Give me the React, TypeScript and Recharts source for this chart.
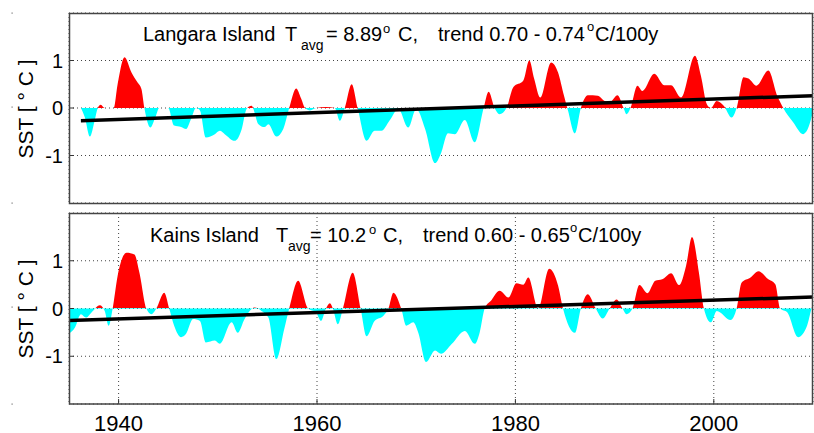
import { ComposedChart, Area, Line, XAxis, YAxis, CartesianGrid } from "recharts";

const FONT = '"Liberation Sans", Arial, Helvetica, sans-serif';

const yearTicks = [1940, 1960, 1980, 2000];
const sstTicks = [-1, 0, 1];

// Langara Island, smoothed SST anomaly
const langaraYears = [
  1936.2, 1936.6, 1937.1, 1937.6, 1937.9, 1938.2, 1938.6, 1939.5, 1939.9, 1940.6,
  1941.3, 1941.9, 1942.3, 1942.6, 1943.2, 1943.7, 1944.1, 1945.0, 1945.6, 1946.3,
  1946.8, 1947.3, 1947.8, 1948.2, 1948.8, 1949.7, 1950.2, 1950.7, 1951.7, 1952.4,
  1952.9, 1953.4, 1954.1, 1954.7, 1955.1, 1955.9, 1956.6, 1957.2, 1957.9, 1958.4,
  1958.8, 1959.3, 1959.9, 1960.9, 1961.8, 1962.3, 1962.8, 1963.5, 1964.1, 1965.0,
  1965.8, 1966.5, 1967.3, 1968.2, 1969.2, 1970.0, 1970.9, 1971.9, 1972.5, 1973.2,
  1973.9, 1974.9, 1975.9, 1976.8, 1977.3, 1977.9, 1978.4, 1979.1, 1979.8, 1980.8,
  1981.4, 1981.9, 1982.5, 1983.6, 1984.3, 1984.9, 1985.3, 1986.0, 1986.6, 1987.3,
  1988.3, 1989.0, 1989.5, 1990.3, 1990.9, 1991.2, 1991.6, 1992.3, 1992.8, 1994.0,
  1995.0, 1995.7, 1996.7, 1998.1, 1998.7, 1999.3, 1999.7, 2000.3, 2001.0, 2001.8,
  2002.3, 2003.0, 2003.5, 2004.3, 2005.5, 2006.4, 2007.0, 2008.0, 2009.0, 2009.9,
  2010.0,
];
const langaraSst = [
  0, -0.2, -0.6, -0.25, 0, 0.07, 0, 0, 0.5, 1.07,
  0.75, 0.54, 0.4, 0, -0.41, -0.2, 0, 0, -0.37, -0.4,
  -0.44, -0.23, 0, -0.05, -0.62, -0.55, -0.48, -0.55, -0.69, -0.45,
  -0.02, 0.05, -0.34, -0.4, -0.34, -0.6, -0.44, 0, 0.41, 0.2,
  0, -0.05, 0, 0.02, 0, -0.27, 0, 0.5, 0, -0.69,
  -0.48, -0.48, -0.27, -0.02, -0.41, -0.02, -0.44, -1.16, -0.95, -0.53,
  -0.55, -0.25, -0.72, 0, 0.34, 0, -0.13, 0, 0.44, 0.58,
  1.0, 0.61, 0.22, 0.96, 0.75, 0.26, -0.05, -0.53, 0, 0.27,
  0.26, 0.15, 0.12, 0.27, 0, -0.13, 0, 0.47, 0.36, 0.72,
  0.48, 0.48, 0.22, 1.1, 0.68, 0.08, 0, 0.15, 0.05, -0.2,
  0, 0.65, 0.62, 0.47, 0.79, 0.26, 0, -0.3, -0.55, -0.16,
  0.03,
];
const langaraTrendYears = [1936.2, 2010];
const langaraTrendSst = [-0.27, 0.26];

// Kains Island, smoothed SST anomaly
const kainsYears = [
  1935.0, 1935.6, 1936.2, 1936.7, 1937.4, 1938.1, 1938.6, 1939.0, 1939.4, 1939.9,
  1940.8, 1941.6, 1942.1, 1942.8, 1943.3, 1943.8, 1944.6, 1945.1, 1945.6, 1946.3,
  1946.8, 1947.5, 1948.2, 1948.8, 1949.7, 1950.2, 1951.4, 1952.0, 1952.7, 1953.4,
  1953.7, 1954.4, 1955.1, 1955.9, 1956.7, 1957.2, 1958.1, 1959.1, 1959.9, 1960.4,
  1960.9, 1961.3, 1961.6, 1962.1, 1962.6, 1963.6, 1964.4, 1965.0, 1965.8, 1966.7,
  1967.2, 1967.7, 1968.5, 1969.0, 1969.7, 1970.2, 1971.0, 1971.9, 1972.5, 1973.6,
  1974.9, 1975.9, 1976.4, 1976.9, 1977.6, 1978.4, 1979.3, 1980.1, 1980.8, 1981.3,
  1982.3, 1983.4, 1984.3, 1984.8, 1986.0, 1986.6, 1987.3, 1988.1, 1988.8, 1989.5,
  1990.2, 1990.8, 1991.2, 1991.8, 1992.5, 1993.3, 1994.1, 1994.8, 1995.7, 1996.5,
  1997.2, 1997.8, 1998.5, 1999.0, 1999.7, 2000.3, 2001.7, 2002.3, 2002.8, 2003.7,
  2004.5, 2005.5, 2006.2, 2006.7, 2007.4, 2008.5, 2009.4, 2009.85, 2010.0,
];
const kainsSst = [
  -0.53, -0.4, -0.12, -0.19, -0.05, 0.07, -0.05, -0.36, 0, 0.68,
  1.17, 1.13, 0.75, 0, -0.12, 0, 0.33, 0, -0.36, -0.6,
  -0.53, -0.22, -0.26, -0.71, -0.67, -0.74, -0.29, -0.51, -0.22, -0.01,
  0.02, -0.05, -0.19, -1.06, -0.43, 0, 0.58, 0, -0.08, -0.26,
  0, 0.11, 0, -0.33, -0.01, 0.75, 0, -0.58, -0.26, -0.15,
  0, 0.33, -0.01, -0.36, -0.29, -0.5, -1.12, -0.88, -0.95, -0.74,
  -0.47, -0.74, -0.5, 0, 0.18, 0.37, 0.23, 0.53, 0.5, 0.65,
  0, 0.83, 0.48, 0, -0.51, 0, 0.3, 0, -0.21, 0,
  0.19, 0, -0.12, 0, 0.49, 0.32, 0.58, 0.61, 0.74, 0.49,
  0.89, 1.5, 0.75, 0, -0.29, -0.05, -0.24, 0, 0.54, 0.65,
  0.78, 0.61, 0.51, 0, -0.08, -0.6, -0.36, 0, 0.1,
];
const kainsTrendYears = [1935, 2010];
const kainsTrendSst = [-0.25, 0.24];

interface PanelProps {
  id: string;
  years: number[];
  sst: number[];
  trendYears: number[];
  trendSst: number[];
  height: number;
  margin: { top: number; right: number; bottom: number; left: number };
  axisHeight: number;
  showYearLabels: boolean;
}

function SstPanel({ id, years, sst, trendYears, trendSst, height, margin, axisHeight, showYearLabels }: PanelProps) {
  const data = years.map((year, i) => ({ year, sst: sst[i] }));
  const trend = trendYears.map((year, i) => ({ year, trend: trendSst[i] }));
  const max = Math.max(...sst);
  const min = Math.min(...sst);
  const off = max / (max - min);

  return (
    <ComposedChart width={814} height={height} data={data} margin={margin}>
      <defs>
        <linearGradient id={id} x1="0" y1="0" x2="0" y2="1">
          <stop offset={off} stopColor="#ff0000" />
          <stop offset={off} stopColor="#00ffff" />
        </linearGradient>
      </defs>
      <CartesianGrid stroke="#444" strokeDasharray="1 3" />
      <XAxis
        dataKey="year"
        type="number"
        domain={[1935, 2010]}
        ticks={yearTicks}
        allowDataOverflow
        height={axisHeight}
        axisLine={false}
        stroke="#333"
        tickSize={-5}
        tickMargin={16}
        tick={showYearLabels ? { fill: "#000", fontSize: 22, fontFamily: FONT } : false}
      />
      <XAxis
        xAxisId="top"
        orientation="top"
        type="number"
        domain={[1935, 2010]}
        ticks={yearTicks}
        allowDataOverflow
        height={0}
        axisLine={false}
        stroke="#333"
        tickSize={-5}
        tick={false}
      />
      <YAxis
        type="number"
        domain={[-2, 2]}
        ticks={sstTicks}
        allowDataOverflow
        width={69}
        axisLine={false}
        stroke="#333"
        tickSize={-5}
        tickMargin={11}
        tick={{ fill: "#000", fontSize: 20, fontFamily: FONT }}
      />
      <Area
        dataKey="sst"
        type="monotone"
        stroke="none"
        fill={`url(#${id})`}
        fillOpacity={1}
        baseValue={0}
        isAnimationActive={false}
      />
      <Line
        data={trend}
        dataKey="trend"
        type="linear"
        stroke="#000"
        strokeWidth={3.5}
        dot={false}
        isAnimationActive={false}
      />
    </ComposedChart>
  );
}

function Title({ x, y, name, avg, trend }: { x: number[]; y: number; name: string; avg: string; trend: string }) {
  return (
    <g fontFamily={FONT} fill="#000">
      <text x={x[0]} y={y} fontSize={20}>{name}</text>
      <text x={x[1]} y={y} fontSize={20}>T</text>
      <text x={x[2]} y={y + 9} fontSize={14}>avg</text>
      <text x={x[3]} y={y} fontSize={20}>{"= " + avg}</text>
      <text x={x[4]} y={y - 8} fontSize={13}>o</text>
      <text x={x[5]} y={y} fontSize={20}>C,</text>
      <text x={x[6]} y={y} fontSize={20}>{"trend " + trend}</text>
      <text x={x[7]} y={y - 10} fontSize={13}>o</text>
      <text x={x[8]} y={y} fontSize={20}>C/100y</text>
    </g>
  );
}

export default function App() {
  return (
    <div style={{ position: "absolute", left: 0, top: 0, width: 814, height: 433, background: "#fff", fontFamily: FONT }}>
      <div style={{ position: "absolute", left: 0, top: 0 }}>
        <SstPanel
          id="langaraFill"
          years={langaraYears}
          sst={langaraSst}
          trendYears={langaraTrendYears}
          trendSst={langaraTrendSst}
          height={213}
          margin={{ top: 13, right: 1, bottom: 10, left: 0 }}
          axisHeight={0}
          showYearLabels={false}
        />
      </div>
      <div style={{ position: "absolute", left: 0, top: 200 }}>
        <SstPanel
          id="kainsFill"
          years={kainsYears}
          sst={kainsSst}
          trendYears={kainsTrendYears}
          trendSst={kainsTrendSst}
          height={233}
          margin={{ top: 13, right: 1, bottom: 0, left: 0 }}
          axisHeight={29}
          showYearLabels
        />
      </div>
      <svg width={814} height={433} style={{ position: "absolute", left: 0, top: 0, pointerEvents: "none" }}>
        <rect x={69.5} y={13.5} width={743} height={190} fill="none" stroke="#444" strokeWidth={1.5} />
        <rect x={69.5} y={213.5} width={743} height={190.5} fill="none" stroke="#444" strokeWidth={1.5} />
        <Title
          x={[143, 285, 301, 326, 383, 398, 438, 587, 595]}
          y={41}
          name="Langara Island"
          avg="8.89"
          trend="0.70 - 0.74"
        />
        <Title
          x={[150, 276, 288, 310, 369, 383, 423, 570, 578]}
          y={242}
          name="Kains Island"
          avg="10.2"
          trend="0.60 - 0.65"
        />
        <text x={33} y={109} transform="rotate(-90 33 109)" textAnchor="middle" fontSize={21} fontFamily={FONT} fill="#000">
          {"SST [ ° C ]"}
        </text>
        <text x={33} y={309} transform="rotate(-90 33 309)" textAnchor="middle" fontSize={21} fontFamily={FONT} fill="#000">
          {"SST [ ° C ]"}
        </text>
        {[13, 107, 203, 307, 404].map((y) => (
          <rect key={y} x={11.5} y={y - 0.5} width={1.2} height={1.2} fill="#777" />
        ))}
      </svg>
    </div>
  );
}
